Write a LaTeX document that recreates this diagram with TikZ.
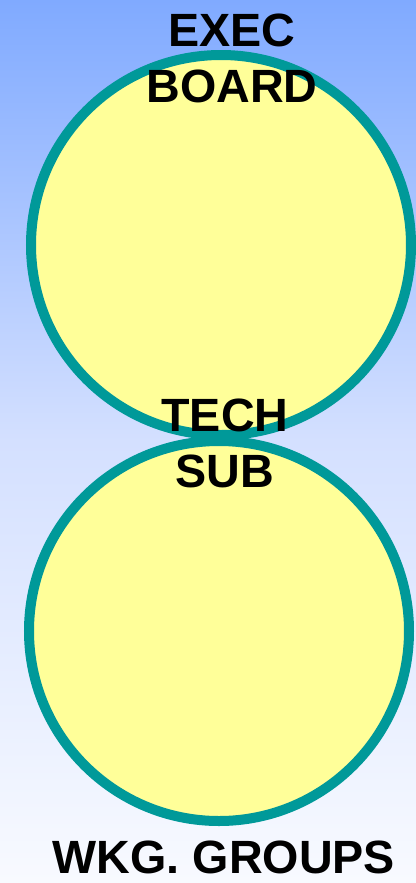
\documentclass[tikz,border=0pt]{standalone}
\usepackage{fontspec}
\setmainfont{Liberation Sans}
\tikzset{every picture/.style={line width=0.75pt}}
\tikzset{
  bubble/.style={color={rgb, 255:red, 0; green, 153; blue, 153 }, draw opacity=1, fill={rgb, 255:red, 255; green, 255; blue, 153 }, fill opacity=1, line width=7.5pt},
  lbl/.style={align=center, font=\fontsize{35}{42}\selectfont\bfseries, inner sep=0pt}
}
\begin{document}
\begin{tikzpicture}[x=0.75pt,y=0.75pt,yscale=-1,xscale=1]
\useasboundingbox (0,0) rectangle (416,883);

%Shape: Background
\fill [top color={rgb, 255:red, 128; green, 170; blue, 255 }, bottom color={rgb, 255:red, 248; green, 250; blue, 255 }, middle color={rgb, 255:red, 212; green, 224; blue, 255 }] (0,0) rectangle (416,883);

%Shape: Circle [upper]
\draw [bubble] (221,245) circle [radius=190];
%Shape: Circle [lower]
\draw [bubble] (219,631) circle [radius=190];

% Text Node
\node [lbl] (exec) at (232,58) {EXEC\\BOARD};
% Text Node
\node [lbl] (tech) at (225,443) {TECH\\SUB};
% Text Node
\node [lbl] (wkg) at (224,857) {WKG. GROUPS};

\end{tikzpicture}
\end{document}
